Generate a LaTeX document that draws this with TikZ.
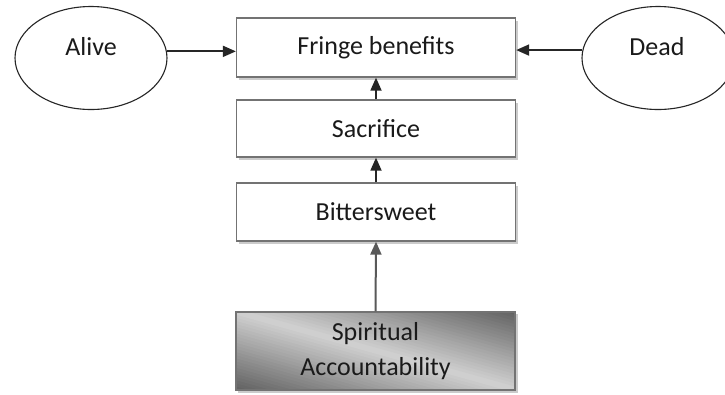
\documentclass[tikz,border=0pt]{standalone}
\usepackage{fontspec}
\setmainfont{Carlito}
\usetikzlibrary{shapes.geometric,arrows.meta,shadows}
\pgfdeclarelayer{back}
\pgfdeclarelayer{background}
\pgfsetlayers{back,background,main}
\definecolor{txtc}{HTML}{1A1A1A}
\tikzset{
  box/.style={draw=black!55, line width=1.3bp, minimum width=279bp,
    inner sep=0pt, text=txtc, font=\fontsize{26bp}{35bp}\selectfont, align=center},
  wbox/.style={box, fill=white,
    drop shadow={shadow xshift=2.5bp, shadow yshift=-2.5bp, fill=black!40, opacity=0.5}},
  shadowfill/.style={fill=black!40, opacity=0.5},
  oval/.style={draw=black!85, line width=1.1bp, ellipse, minimum width=152bp,
    minimum height=103bp, inner sep=0pt},
  lbl/.style={text=txtc, font=\fontsize{26bp}{35bp}\selectfont, inner sep=0pt},
  arr/.style={draw=black!85, line width=1.8bp, -{Triangle[length=13bp,width=11bp]}},
  garr/.style={draw=black!65, line width=2bp, -{Triangle[length=13bp,width=11bp]}}
}
\begin{document}
\begin{tikzpicture}[x=1bp,y=-1bp]
\clip (0,0) rectangle (725,394);
\begin{pgfonlayer}{back}
\fill[white] (0,0) rectangle (725,394);
\end{pgfonlayer}
\node[wbox, minimum height=59bp] (fringe) at (376,47.5) {Fringe benefits};
\node[wbox, minimum height=57bp] (sacrifice) at (376,128.5) {Sacrifice};
\node[wbox, minimum height=58bp] (bitter) at (376,212) {Bittersweet};
\node[box, minimum height=78bp] (spirit) at (375.5,351) {Spiritual\\Accountability};
\begin{pgfonlayer}{background}
\fill[shadowfill] ([shift={(2.5,2.5)}]spirit.north west) rectangle ([shift={(2.5,2.5)}]spirit.south east);
\begin{scope}[shift={(spirit.north west)}, xscale=279, yscale=78]
  \clip (0,0) rectangle (1,1);
  \foreach \i in {-25,...,24} {
    \pgfmathsetmacro\sa{\i/25}
    \pgfmathsetmacro\sb{(\i+1.3)/25}
    \pgfmathsetmacro\k{18+44*abs((\i+0.5)/25)}
    \fill[black!\k] (\sa-1,-1) -- (\sa+2,2) -- (\sb+2,2) -- (\sb-1,-1) -- cycle;
  }
\end{scope}
\end{pgfonlayer}
\node[oval] (alive) at (91,58) {};
\node[lbl] (alivet) at (91,47) {Alive};
\node[oval] (dead) at (658,58) {};
\node[lbl] (deadt) at (657,47) {Dead};
\draw[arr] (alive.5) -- (alive.5 -| fringe.west);
\draw[arr] (dead.174) -- (dead.174 -| fringe.east);
\draw[arr] (sacrifice.north) -- (fringe.south);
\draw[arr] (bitter.north) -- (sacrifice.south);
\draw[garr] (spirit.north) -- (bitter.south);
\end{tikzpicture}
\end{document}
